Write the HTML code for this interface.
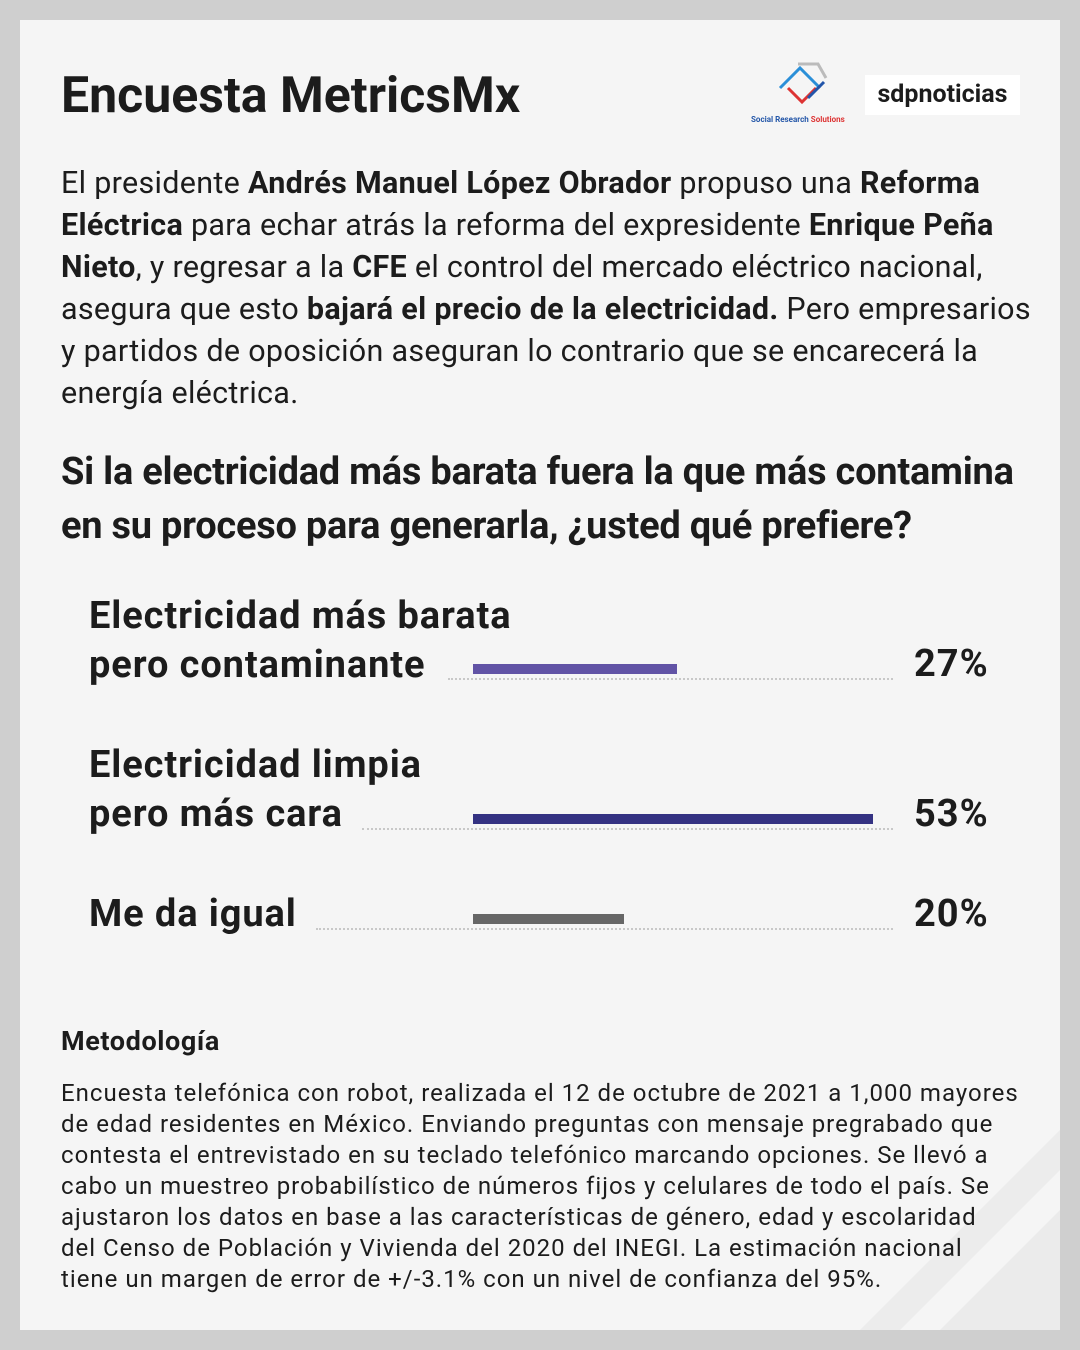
<!DOCTYPE html>
<html><head><meta charset="utf-8"><style>
body{margin:0;width:1080px;height:1350px;background:#cfcfcf;font-family:"Roboto","Liberation Sans",sans-serif;color:#1c1c1c;position:relative;overflow:hidden}
.card{position:absolute;left:20px;top:20px;width:1040px;height:1310px;background:#f5f5f5;overflow:hidden}
.abs{position:absolute;white-space:nowrap}
h1{position:absolute;left:41px;top:47px;margin:0;font-size:50px;font-weight:bold;letter-spacing:0px}
.intro{position:absolute;left:41px;top:143px;font-size:30.5px;line-height:42px;white-space:nowrap;letter-spacing:0.3px}
.q{position:absolute;left:41px;top:425px;font-size:38px;font-weight:bold;line-height:54px;letter-spacing:-0.25px;white-space:nowrap}
.lab{font-size:38px;font-weight:bold;line-height:49px;letter-spacing:0.9px}
.pct{font-size:38px;font-weight:bold;letter-spacing:1px}
.dot{position:absolute;border-top:2px dotted #c8c8c8;height:0}
.bar{position:absolute;height:10px}
.meth{position:absolute;left:41px;top:1005px;font-size:27px;font-weight:bold;letter-spacing:0.6px}
.mtxt{position:absolute;left:41px;top:1058px;font-size:24px;line-height:31px;white-space:nowrap;letter-spacing:1px}
</style></head><body>
<div class="card">
<svg style="position:absolute;left:820px;top:1090px" width="220" height="220"><polygon points="220,20 220,60 60,220 20,220" fill="#ececec"/><polygon points="220,100 220,220 100,220" fill="#ebebeb"/></svg>
<h1>Encuesta MetricsMx</h1>
<svg style="position:absolute;left:748px;top:38px" width="70" height="60"><g fill="none" stroke-width="3"><path d="M12,30 L32,10 L52,30" stroke="#2a8fd8"/><path d="M20,30 L34,44 L48,30" stroke="#d33"/><path d="M30,6 L50,6 L58,20" stroke="#bbb"/><path d="M40,40 L56,24" stroke="#2255aa"/></g></svg>
<div class="abs" style="left:731px;top:95px;font-size:8px;font-weight:bold;color:#2356a8">Social Research <span style="color:#d33">Solutions</span></div>
<div class="abs" style="left:845px;top:55px;width:155px;height:40px;background:#fff;font-size:25px;font-weight:bold;line-height:40px;text-align:center">sdpnoticias</div>
<div class="intro">El presidente <b>Andrés Manuel López Obrador</b> propuso una <b>Reforma</b><br><b>Eléctrica</b> para echar atrás la reforma del expresidente <b>Enrique Peña</b><br><b>Nieto</b>, y regresar a la <b>CFE</b> el control del mercado eléctrico nacional,<br>asegura que esto <b>bajará el precio de la electricidad.</b> Pero empresarios<br>y partidos de oposición aseguran lo contrario que se encarecerá la<br>energía eléctrica.</div>
<div class="q">Si la electricidad más barata fuera la que más contamina<br>en su proceso para generarla, ¿usted qué prefiere?</div>
<div class="abs lab" style="left:69px;top:572px">Electricidad más barata<br>pero contaminante</div>
<div class="dot" style="left:428px;width:445px;top:658px"></div>
<div class="bar" style="left:453px;width:204px;top:644px;background:#6153a5"></div>
<div class="abs pct" style="left:894px;top:622px">27%</div>
<div class="abs lab" style="left:69px;top:721px">Electricidad limpia<br>pero más cara</div>
<div class="dot" style="left:342px;width:531px;top:808px"></div>
<div class="bar" style="left:453px;width:400px;top:794px;background:#343282"></div>
<div class="abs pct" style="left:894px;top:772px">53%</div>
<div class="abs lab" style="left:69px;top:870px">Me da igual</div>
<div class="dot" style="left:296px;width:577px;top:908px"></div>
<div class="bar" style="left:453px;width:151px;top:894px;background:#666"></div>
<div class="abs pct" style="left:894px;top:872px">20%</div>
<div class="meth">Metodología</div>
<div class="mtxt">Encuesta telefónica con robot, realizada el 12 de octubre de 2021 a 1,000 mayores<br>de edad residentes en México. Enviando preguntas con mensaje pregrabado que<br>contesta el entrevistado en su teclado telefónico marcando opciones. Se llevó a<br>cabo un muestreo probabilístico de números fijos y celulares de todo el país. Se<br>ajustaron los datos en base a las características de género, edad y escolaridad<br>del Censo de Población y Vivienda del 2020 del INEGI. La estimación nacional<br>tiene un margen de error de +/-3.1% con un nivel de confianza del 95%.</div>
</div>
</body></html>
